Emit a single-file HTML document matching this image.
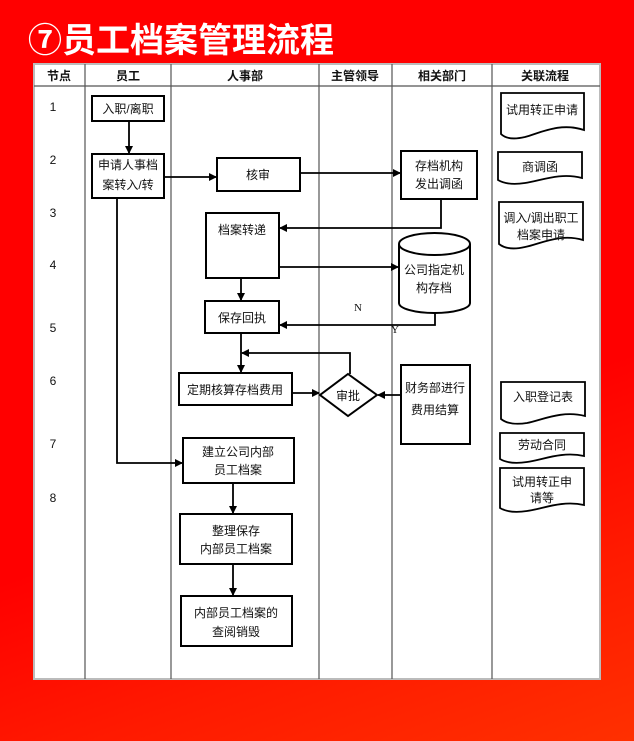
<!DOCTYPE html>
<html><head><meta charset="utf-8"><style>
html,body{margin:0;padding:0;}
body{width:634px;height:741px;overflow:hidden;background:linear-gradient(160deg,#ff0000 0%,#ff0000 60%,#ff1a00 80%,#ff3000 100%);position:relative;font-family:"Liberation Sans","Noto Sans CJK SC",sans-serif;}
.t{position:absolute;left:28px;top:13px;color:#fff;font-weight:bold;font-size:34px;letter-spacing:0px;font-family:"Liberation Sans","Noto Sans CJK SC",sans-serif;white-space:nowrap;}
svg{position:absolute;left:0;top:0;}
svg text{font-family:"Liberation Sans","Noto Sans CJK SC",sans-serif;font-size:12px;fill:#111;text-anchor:middle;}
</style></head><body>
<div class="t">⑦员工档案管理流程</div>
<svg width="634" height="741" viewBox="0 0 634 741">
<defs><marker id="a" markerWidth="8" markerHeight="8" refX="7" refY="4" orient="auto" markerUnits="userSpaceOnUse"><path d="M0,0 L8,4 L0,8 z" fill="#000"/></marker></defs>
<rect x="34" y="64" width="566" height="615" fill="#fff" stroke="#bbb" stroke-width="2"/>
<g stroke="#555" stroke-width="1.2">
<line x1="34" y1="86" x2="600" y2="86"/>
<line x1="85" y1="64" x2="85" y2="679"/>
<line x1="171" y1="64" x2="171" y2="679"/>
<line x1="319" y1="64" x2="319" y2="679"/>
<line x1="392" y1="64" x2="392" y2="679"/>
<line x1="492" y1="64" x2="492" y2="679"/>
</g>
<g style="font-weight:bold">
<text x="59" y="80">节点</text><text x="128" y="80">员工</text><text x="245" y="80">人事部</text><text x="355" y="80">主管领导</text><text x="442" y="80">相关部门</text><text x="545" y="80">关联流程</text>
</g>
<g style="font-family:'Liberation Serif',serif;fill:#333">
<text x="53" y="111">1</text><text x="53" y="164">2</text><text x="53" y="217">3</text><text x="53" y="269">4</text><text x="53" y="332">5</text><text x="53" y="385">6</text><text x="53" y="448">7</text><text x="53" y="502">8</text>
</g>
<g fill="#fff" stroke="#000" stroke-width="2">
<rect x="92" y="96" width="72" height="25"/>
<rect x="92" y="154" width="72" height="44"/>
<rect x="217" y="158" width="83" height="33"/>
<rect x="401" y="151" width="76" height="48"/>
<rect x="206" y="213" width="73" height="65"/>
<path d="M399,244 A35.5,11 0 0 1 470,244 V303 A35.5,10 0 0 1 399,303 Z"/>
<path d="M399,244 A35.5,11 0 0 0 470,244" fill="none"/>
<rect x="205" y="301" width="74" height="32"/>
<rect x="179" y="373" width="113" height="32"/>
<path d="M348,374 L377,395 L348,416 L320,395 Z"/>
<rect x="401" y="365" width="69" height="79"/>
<rect x="183" y="438" width="111" height="45"/>
<rect x="180" y="514" width="112" height="50"/>
<rect x="181" y="596" width="111" height="50"/>
</g>
<g fill="#fff" stroke="#000" stroke-width="1.8">
<path d="M501,93 H584 V130 C560,122 540,133 525,137 C512,140 505,138 501,134 Z"/>
<path d="M498,152 H582 V178 C560,172 540,181 525,183 C512,185 503,183 498,180 Z"/>
<path d="M499,202 H583 V240 C560,233 540,244 525,247 C512,250 504,248 499,244 Z"/>
<path d="M501,382 H585 V416 C562,410 542,420 527,423 C514,425 506,423 501,419 Z"/>
<path d="M500,433 H584 V456 C562,451 542,460 527,462 C514,464 505,462 500,459 Z"/>
<path d="M500,468 H584 V505 C562,500 542,509 527,511 C514,513 505,511 500,508 Z"/>
</g>
<g stroke="#000" stroke-width="1.8" fill="none">
<line x1="129" y1="121" x2="129" y2="153" marker-end="url(#a)"/>
<line x1="164" y1="177" x2="216" y2="177" marker-end="url(#a)"/>
<line x1="300" y1="173" x2="400" y2="173" marker-end="url(#a)"/>
<polyline points="441,199 441,228 280,228" marker-end="url(#a)"/>
<line x1="279" y1="267" x2="398" y2="267" marker-end="url(#a)"/>
<line x1="241" y1="278" x2="241" y2="300" marker-end="url(#a)"/>
<polyline points="435,313 435,325 280,325" marker-end="url(#a)"/>
<line x1="241" y1="333" x2="241" y2="372" marker-end="url(#a)"/>
<polyline points="350,374 350,353 242,353" marker-end="url(#a)"/>
<line x1="292" y1="393" x2="319" y2="393" marker-end="url(#a)"/>
<line x1="401" y1="395" x2="378" y2="395" marker-end="url(#a)"/>
<polyline points="117,198 117,463 182,463" marker-end="url(#a)"/>
<line x1="233" y1="483" x2="233" y2="513" marker-end="url(#a)"/>
<line x1="233" y1="564" x2="233" y2="595" marker-end="url(#a)"/>
</g>
<text x="128" y="113">入职/离职</text>
<text x="128" y="169">申请人事档</text><text x="128" y="189">案转入/转</text>
<text x="258" y="179">核审</text>
<text x="439" y="170">存档机构</text><text x="439" y="188">发出调函</text>
<text x="242" y="234">档案转递</text>
<text x="434" y="274">公司指定机</text><text x="434" y="292">构存档</text>
<text x="242" y="322">保存回执</text>
<text x="235" y="394">定期核算存档费用</text>
<text x="348" y="400">审批</text>
<text x="435" y="392">财务部进行</text><text x="435" y="414">费用结算</text>
<text x="238" y="456">建立公司内部</text><text x="238" y="474">员工档案</text>
<text x="236" y="535">整理保存</text><text x="236" y="553">内部员工档案</text>
<text x="236" y="617">内部员工档案的</text><text x="236" y="636">查阅销毁</text>
<text x="542" y="114">试用转正申请</text>
<text x="540" y="171">商调函</text>
<text x="541" y="222">调入/调出职工</text><text x="541" y="239">档案申请</text>
<text x="543" y="401">入职登记表</text>
<text x="542" y="449">劳动合同</text>
<text x="542" y="486">试用转正申</text><text x="542" y="502">请等</text>
<text x="358" y="311" style="font-family:'Liberation Serif',serif;font-size:11px">N</text>
<text x="395" y="333" style="font-family:'Liberation Serif',serif;font-size:11px">Y</text>
</svg>
</body></html>
